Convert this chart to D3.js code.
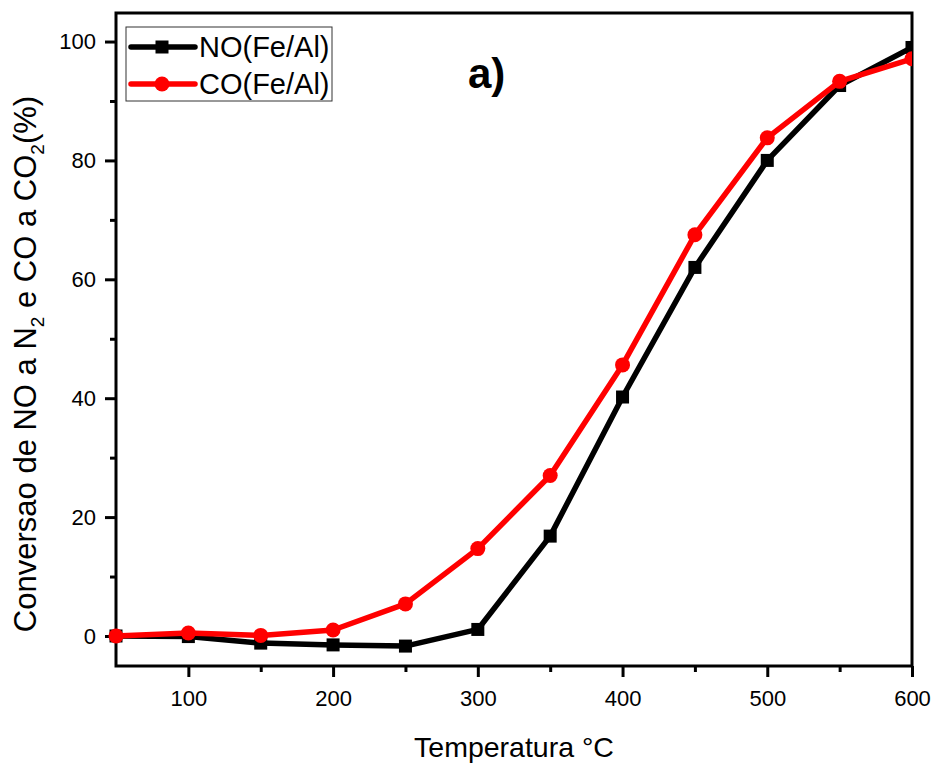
<!DOCTYPE html>
<html>
<head>
<meta charset="utf-8">
<script src="https://cdn.jsdelivr.net/npm/d3@7"></script>
<style>
  html, body { margin: 0; padding: 0; background: #fff; }
  svg { display: block; font-family: Arial, "Liberation Sans", sans-serif; }
</style>
</head>
<body>
<svg id="chart" width="936" height="765"></svg>
<script>
// Temperature (°C) at which each conversion was measured
const temperatures = [50, 100, 150, 200, 250, 300, 350, 400, 450, 500, 550, 600];
// NO -> N2 conversion (%), Fe/Al catalyst
const noConversion = [0, -0.1, -1.2, -1.5, -1.7, 1.1, 16.8, 40.2, 62.0, 80.0, 92.6, 99.0];
// CO -> CO2 conversion (%), Fe/Al catalyst
const coConversion = [0, 0.5, 0.1, 1.0, 5.4, 14.7, 27.0, 45.6, 67.5, 83.8, 93.3, 97.1];
const xTicks = [100, 200, 300, 400, 500, 600];
const xMinorTicks = [150, 250, 350, 450, 550];
const yTicks = [0, 20, 40, 60, 80, 100];
const yMinorTicks = [10, 30, 50, 70, 90];
const seriesNames = ["NO(Fe/Al)", "CO(Fe/Al)"];

const svg = d3.select("#chart");
const plot = { left: 116, right: 912, top: 13, bottom: 666 };

const x = d3.scaleLinear().domain([50, 600]).range([plot.left, plot.right]);
const y = d3.scaleLinear().domain([-5.05, 104.8]).range([plot.bottom, plot.top]);

// frame
svg.append("rect")
  .attr("x", plot.left).attr("y", plot.top)
  .attr("width", plot.right - plot.left).attr("height", plot.bottom - plot.top)
  .attr("fill", "none").attr("stroke", "#000").attr("stroke-width", 3);

// bottom axis: major ticks with labels, minor ticks without
svg.append("g").attr("transform", `translate(0,${plot.bottom})`)
  .call(d3.axisBottom(x).tickValues(xTicks).tickSize(11).tickPadding(13).tickFormat(d3.format("d")));
svg.append("g").attr("transform", `translate(0,${plot.bottom})`)
  .call(d3.axisBottom(x).tickValues(xMinorTicks).tickSize(6).tickFormat(""));

// left axis
svg.append("g").attr("transform", `translate(${plot.left},0)`)
  .call(d3.axisLeft(y).tickValues(yTicks).tickSize(11).tickPadding(9).tickFormat(d3.format("d")));
svg.append("g").attr("transform", `translate(${plot.left},0)`)
  .call(d3.axisLeft(y).tickValues(yMinorTicks).tickSize(6).tickFormat(""));

svg.selectAll(".domain").remove();
svg.selectAll(".tick line").attr("stroke", "#000").attr("stroke-width", 3);
svg.selectAll(".tick text").attr("fill", "#000").style("font-size", "22px")
  .style("font-family", "Arial, 'Liberation Sans', sans-serif");

// axis titles
svg.append("text")
  .attr("x", (plot.left + plot.right) / 2).attr("y", 757)
  .attr("text-anchor", "middle")
  .style("font-size", "28.5px")
  .text("Temperatura °C");

const yTitle = svg.append("text")
  .attr("transform", `translate(36,364) rotate(-90)`)
  .attr("text-anchor", "middle")
  .style("font-size", "31px");
yTitle.append("tspan").text("Conversao de NO a N");
yTitle.append("tspan").attr("dy", 8).style("font-size", "19px").text("2");
yTitle.append("tspan").attr("dy", -8).text(" e CO a CO");
yTitle.append("tspan").attr("dy", 8).style("font-size", "19px").text("2");
yTitle.append("tspan").attr("dy", -8).text("(%)");

// panel tag
svg.append("text")
  .attr("x", 468).attr("y", 88)
  .style("font-size", "42px").style("font-weight", "bold")
  .text("a)");

const line = d3.line().x(d => x(d[0])).y(d => y(d[1]));
const noData = temperatures.map((t, i) => [t, noConversion[i]]);
const coData = temperatures.map((t, i) => [t, coConversion[i]]);

svg.append("clipPath").attr("id", "plotClip")
  .append("rect").attr("x", plot.left - 8).attr("y", plot.top - 8)
  .attr("width", plot.right - plot.left + 8).attr("height", plot.bottom - plot.top + 16);

const series = svg.append("g").attr("clip-path", "url(#plotClip)");
const sq = 13;

series.append("path").datum(noData)
  .attr("d", line).attr("fill", "none").attr("stroke", "#000")
  .attr("stroke-width", 5.5).attr("stroke-linejoin", "round");
series.selectAll(".noMark").data(noData).enter().append("rect")
  .attr("x", d => x(d[0]) - sq / 2).attr("y", d => y(d[1]) - sq / 2)
  .attr("width", sq).attr("height", sq).attr("fill", "#000");

series.append("path").datum(coData)
  .attr("d", line).attr("fill", "none").attr("stroke", "#ff0000")
  .attr("stroke-width", 5.5).attr("stroke-linejoin", "round");
series.selectAll(".coMark").data(coData).enter().append("circle")
  .attr("cx", d => x(d[0])).attr("cy", d => y(d[1])).attr("r", 7.5)
  .attr("fill", "#ff0000");

// legend
const legend = svg.append("g");
legend.append("rect").attr("x", 126).attr("y", 27).attr("width", 206).attr("height", 74)
  .attr("fill", "#fff").attr("stroke", "#333").attr("stroke-width", 1);
const legendItems = [
  { name: seriesNames[0], color: "#000", shape: "square", cy: 47 },
  { name: seriesNames[1], color: "#ff0000", shape: "circle", cy: 84 }
];
legendItems.forEach(it => {
  legend.append("line").attr("x1", 131).attr("x2", 195).attr("y1", it.cy).attr("y2", it.cy)
    .attr("stroke", it.color).attr("stroke-width", 5.5).attr("stroke-linecap", "round");
  if (it.shape === "square") {
    legend.append("rect").attr("x", 162 - sq / 2).attr("y", it.cy - sq / 2)
      .attr("width", sq).attr("height", sq).attr("fill", it.color);
  } else {
    legend.append("circle").attr("cx", 162).attr("cy", it.cy).attr("r", 7.5).attr("fill", it.color);
  }
  legend.append("text").attr("x", 199).attr("y", it.cy + 10)
    .style("font-size", "29px").text(it.name);
});
</script>
</body>
</html>
